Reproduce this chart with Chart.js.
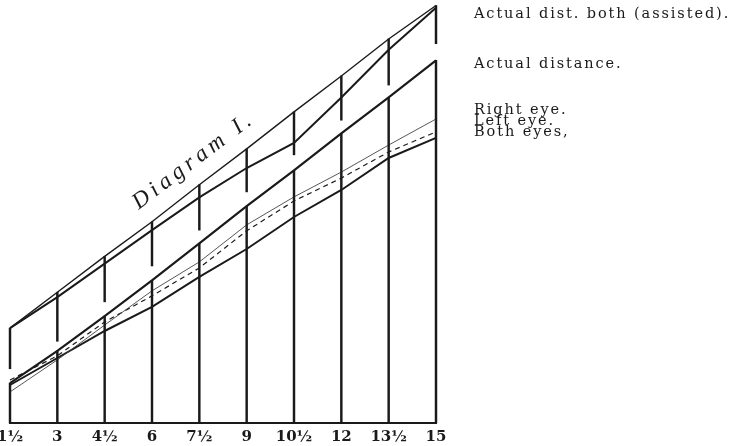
<!DOCTYPE html>
<html>
<head>
<meta charset="utf-8">
<script src="https://cdn.jsdelivr.net/npm/chart.js@4"></script>
<style>
    html, body { margin: 0; padding: 0; background: #fff; }
    #wrap { width: 737px; height: 446px; }
</style>
</head>
<body>
<div id="wrap"><canvas id="diagram"></canvas></div>
<script>
// test distances along the bottom
const distanceLabels = ['1½', '3', '4½', '6', '7½', '9', '10½', '12', '13½', '15'];

// values (same units as the bottom scale)
const normalLine     = [3.8, 5.3, 6.8, 8.25, 9.8, 11.3, 12.85, 14.35, 15.9, 17.3];
const assistedBoth   = [3.8, 5.1, 6.5, 7.9, 9.27, 10.5, 11.55, 13.45, 15.45, 17.2];
const actualDistance = [1.5, 2.85, 4.3, 5.8, 7.35, 8.9, 10.4, 11.95, 13.45, 15.0];
const rightEye       = [1.13, 2.47, 3.93, 5.36, 6.57, 8.12, 9.29, 10.33, 11.46, 12.55];
const leftEye        = [1.63, 2.64, 4.06, 5.15, 6.32, 7.87, 9.12, 10.08, 11.17, 12.01];
const bothEyes       = [1.42, 2.55, 3.68, 4.69, 5.94, 7.11, 8.45, 9.58, 10.92, 11.76];

// the upright rulings are broken just above the "actual distance" line
const rulingBreak    = [2.1, 3.25, 4.9, 6.4, 7.9, 9.5, 11.05, 12.5, 13.97, 15.7];

const seriesNotes = ['Actual dist. both (assisted).', 'Actual distance.', 'Right eye.', 'Left eye.', 'Both eyes,'];
const noteBaselines = [18, 68, 114, 125, 136];
const plateTitle = 'Diagram I.';

const Y_MIN = -0.17;
const Y_MAX = 17.32;
const INK = '#1a1a1a';

function lineSet(label, data, width, extra = {}) {
    return {
        type: 'line',
        label: label,
        data: data,
        borderColor: INK,
        borderWidth: width,
        pointRadius: 0,
        tension: 0,
        fill: false,
        clip: false,
        ...extra
    };
}

function rulingSet(label, data) {
    return {
        type: 'bar',
        label: label,
        data: data,
        backgroundColor: INK,
        borderWidth: 0,
        barThickness: 1.8,
        grouped: false,
        clip: false
    };
}

const lowerRulings = actualDistance.map(v => [Y_MIN, v]);
const upperRulings = normalLine.map((v, i) => [rulingBreak[i], v]);

const notesPlugin = {
    id: 'plateNotes',
    afterDraw(chart) {
        const ctx = chart.ctx;
        const xs = chart.scales.x;
        const ys = chart.scales.y;

        ctx.save();
        ctx.fillStyle = INK;
        ctx.font = '14.5px "DejaVu Serif", serif';
        ctx.letterSpacing = '1.9px';
        ctx.textBaseline = 'alphabetic';
        seriesNotes.forEach((text, i) => {
            ctx.fillText(text, 474, noteBaselines[i]);
        });
        ctx.restore();

        // title runs parallel to the top line
        const x0 = xs.getPixelForValue(0), y0 = ys.getPixelForValue(normalLine[0]);
        const x1 = xs.getPixelForValue(9), y1 = ys.getPixelForValue(normalLine[9]);
        const angle = Math.atan2(y1 - y0, x1 - x0);
        ctx.save();
        ctx.translate(xs.getPixelForValue(2.72), ys.getPixelForValue(8.75));
        ctx.rotate(angle);
        ctx.fillStyle = INK;
        ctx.font = 'italic 23px "Liberation Serif", serif';
        ctx.letterSpacing = '4.5px';
        ctx.fillText(plateTitle, 0, 0);
        ctx.restore();
    }
};

const ctx = document.getElementById('diagram').getContext('2d');
new Chart(ctx, {
    type: 'line',
    data: {
        labels: distanceLabels,
        datasets: [
            rulingSet('rulings low', lowerRulings),
            rulingSet('rulings high', upperRulings),
            lineSet('Normal', normalLine, 1.4),
            lineSet('Actual dist. both (assisted)', assistedBoth, 2),
            lineSet('Actual distance', actualDistance, 2.2),
            lineSet('Right eye', rightEye, 0.9, { borderColor: '#444' }),
            lineSet('Left eye', leftEye, 1.2, { borderDash: [5, 4] }),
            lineSet('Both eyes', bothEyes, 2)
        ]
    },
    options: {
        responsive: true,
        maintainAspectRatio: false,
        animation: false,
        events: [],
        layout: { padding: { left: 10, right: 301, top: 5, bottom: 0 } },
        plugins: {
            legend: { display: false },
            tooltip: { enabled: false },
            title: { display: false }
        },
        scales: {
            x: {
                offset: false,
                grid: { display: true, offset: false, drawOnChartArea: false, drawTicks: false, color: 'transparent' },
                border: { display: true, color: INK, width: 2 },
                ticks: {
                    color: INK,
                    padding: 5,
                    maxRotation: 0,
                    autoSkip: false,
                    font: { family: '"DejaVu Serif", serif', size: 15, weight: 'bold' }
                },
                afterFit(scale) {
                    scale.height = 23;
                    scale.paddingLeft = 0;
                    scale.paddingRight = 0;
                }
            },
            y: {
                display: false,
                min: Y_MIN,
                max: Y_MAX
            }
        }
    },
    plugins: [notesPlugin]
});
</script>
</body>
</html>
